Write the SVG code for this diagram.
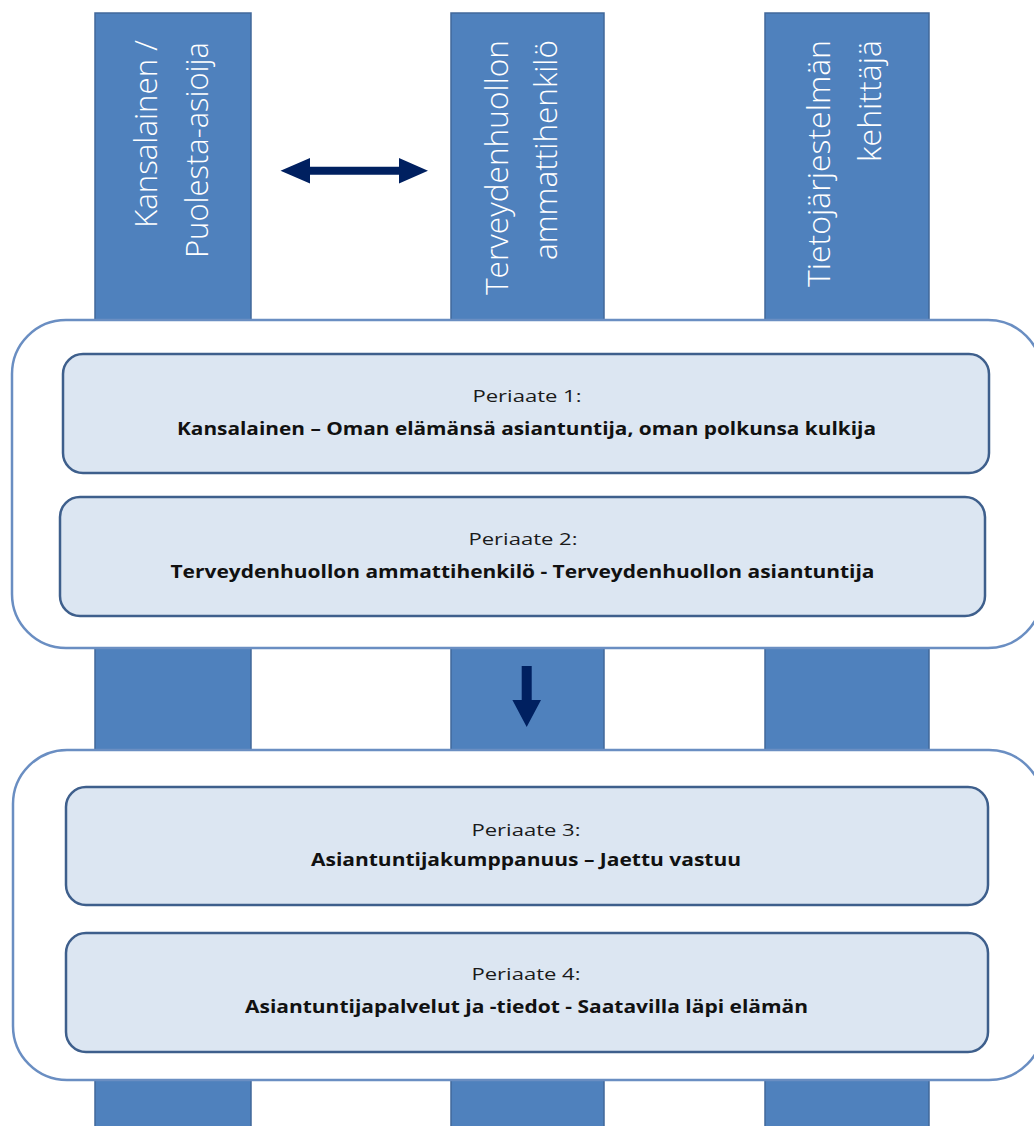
<svg xmlns="http://www.w3.org/2000/svg" width="1034" height="1126" viewBox="0 0 1034 1126">
<style>
.pillar{fill:#4f81bd;stroke:#41689a;stroke-width:1.5}
.outer{fill:#ffffff;stroke:#6a8ec2;stroke-width:2.5}
.inner{fill:#dce6f2;stroke:#3e5f8c;stroke-width:2.5}
.ptxt{font-family:"Open Sans","Liberation Sans",sans-serif;font-size:32px;font-weight:300;fill:#ffffff}
.lbl{font-family:"Open Sans","Liberation Sans",sans-serif;font-size:16px;fill:#1a1a1a;text-anchor:middle}
.bold{font-family:"Open Sans","Liberation Sans",sans-serif;font-size:17px;font-weight:bold;fill:#111111;text-anchor:middle}
.arrow{fill:#002060}
</style>
<rect width="1034" height="1126" fill="#ffffff"/>
<g id="pillar-kansalainen">
<rect class="pillar" x="95" y="13" width="156" height="1120"/>
<text class="ptxt" text-anchor="end" transform="translate(157,40) rotate(-90)" textLength="188" lengthAdjust="spacingAndGlyphs">Kansalainen /</text>
<text class="ptxt" text-anchor="end" transform="translate(208,42) rotate(-90)" textLength="216" lengthAdjust="spacingAndGlyphs">Puolesta-asioija</text>
</g>
<g id="pillar-terveydenhuolto">
<rect class="pillar" x="451" y="13" width="153" height="1120"/>
<text class="ptxt" text-anchor="end" transform="translate(508,40) rotate(-90)" textLength="255" lengthAdjust="spacingAndGlyphs">Terveydenhuollon</text>
<text class="ptxt" text-anchor="end" transform="translate(557,40) rotate(-90)" textLength="220" lengthAdjust="spacingAndGlyphs">ammattihenkilö</text>
</g>
<g id="pillar-kehittaja">
<rect class="pillar" x="765" y="13" width="164" height="1120"/>
<text class="ptxt" text-anchor="end" transform="translate(830,40) rotate(-90)" textLength="247" lengthAdjust="spacingAndGlyphs">Tietojärjestelmän</text>
<text class="ptxt" text-anchor="end" transform="translate(881,40) rotate(-90)" textLength="122" lengthAdjust="spacingAndGlyphs">kehittäjä</text>
</g>
<g id="group-1">
<rect class="outer" x="12" y="320" width="1030" height="328" rx="54" ry="54"/>
</g>
<g id="periaate-1">
<rect class="inner" x="63" y="354" width="926" height="119" rx="20" ry="20"/>
<text class="lbl" x="527" y="402" textLength="109" lengthAdjust="spacingAndGlyphs">Periaate 1:</text>
<text class="bold" x="526.5" y="435" textLength="699" lengthAdjust="spacingAndGlyphs">Kansalainen – Oman elämänsä asiantuntija, oman polkunsa kulkija</text>
</g>
<g id="periaate-2">
<rect class="inner" x="60" y="497" width="925" height="119" rx="20" ry="20"/>
<text class="lbl" x="523" y="545" textLength="109" lengthAdjust="spacingAndGlyphs">Periaate 2:</text>
<text class="bold" x="522.5" y="578" textLength="704" lengthAdjust="spacingAndGlyphs">Terveydenhuollon ammattihenkilö - Terveydenhuollon asiantuntija</text>
</g>
<g id="group-2">
<rect class="outer" x="13" y="750" width="1030" height="330" rx="54" ry="54"/>
</g>
<g id="periaate-3">
<rect class="inner" x="66" y="787" width="922" height="118" rx="20" ry="20"/>
<text class="lbl" x="526" y="836" textLength="109" lengthAdjust="spacingAndGlyphs">Periaate 3:</text>
<text class="bold" x="526" y="866" textLength="430" lengthAdjust="spacingAndGlyphs">Asiantuntijakumppanuus – Jaettu vastuu</text>
</g>
<g id="periaate-4">
<rect class="inner" x="66" y="933" width="922" height="119" rx="20" ry="20"/>
<text class="lbl" x="526" y="980" textLength="109" lengthAdjust="spacingAndGlyphs">Periaate 4:</text>
<text class="bold" x="526.5" y="1013" textLength="563" lengthAdjust="spacingAndGlyphs">Asiantuntijapalvelut ja -tiedot - Saatavilla läpi elämän</text>
</g>
<g id="connectors">
<path class="arrow" d="M280.5,170.7 L310,158 L310,166.7 L399,166.7 L399,158 L428,170.7 L399,183.4 L399,174.7 L310,174.7 L310,183.4 Z"/>
<path class="arrow" d="M521.7,666 L531.7,666 L531.7,700 L541,700 L526.7,727 L512.4,700 L521.7,700 Z"/>
</g>
</svg>
